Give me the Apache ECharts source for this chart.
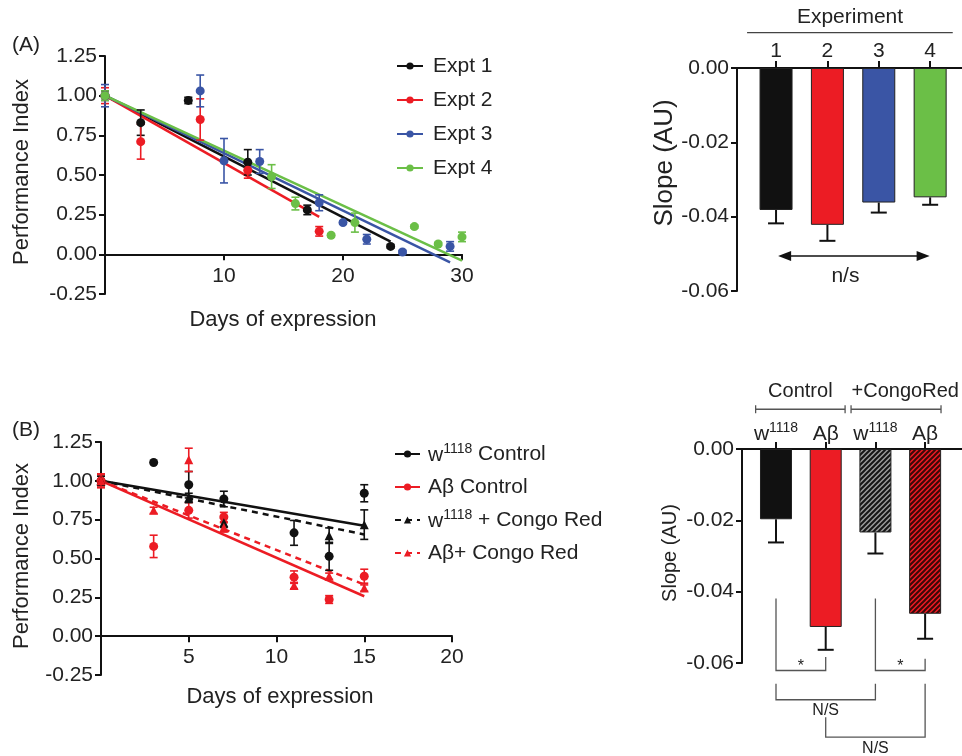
<!DOCTYPE html>
<html><head><meta charset="utf-8">
<script src="https://cdn.jsdelivr.net/npm/echarts@6/dist/echarts.min.js"></script>
<style>html,body{margin:0;padding:0;background:#fff}#c{width:962px;height:756px}</style>
</head><body><div id="c"></div>
<script>
// ================= DATA =================
// Panel A – performance index per experiment
const exptNames = ['Expt 1', 'Expt 2', 'Expt 3', 'Expt 4'];
const a1Days = [0, 3, 7, 12, 17, 24];
const a1PI   = [1.00, 0.83, 0.97, 0.58, 0.28, 0.05];
const a1Err  = [0.03, 0.08, 0.02, 0.08, 0.03, 0.01];
const a2Days = [0, 3, 8, 12, 18];
const a2PI   = [1.00, 0.71, 0.85, 0.53, 0.145];
const a2Err  = [0.05, 0.11, 0.13, 0.05, 0.03];
const a3Days = [0, 8, 10, 13, 18, 20, 22, 25, 29];
const a3PI   = [1.00, 1.03, 0.59, 0.585, 0.325, 0.20, 0.095, 0.015, 0.05];
const a3Err  = [0.07, 0.10, 0.14, 0.075, 0.05, 0.01, 0.03, 0.01, 0.03];
const a4Days = [0, 14, 16, 19, 21, 26, 28, 30];
const a4PI   = [1.00, 0.49, 0.32, 0.12, 0.20, 0.175, 0.065, 0.11];
const a4Err  = [0.03, 0.075, 0.04, 0.01, 0.06, 0.01, 0.01, 0.03];
// linear-fit end points [day, PI]
const fitA1 = [[0, 1.00], [24, 0.08]];
const fitA2 = [[0, 1.00], [18, 0.236]];
const fitA3 = [[0, 1.00], [29, -0.05]];
const fitA4 = [[0, 1.00], [30, -0.04]];
// Panel A – slopes
const expCats = ['1', '2', '3', '4'];
const slopesA = [-0.0382, -0.0422, -0.0362, -0.0348];
const semA    = [0.0036, 0.0043, 0.0027, 0.0020];

// Panel B – performance index
const bNames = ['w1118 Control', 'Aβ Control', 'w1118 + Congo Red', 'Aβ+ Congo Red'];
const bWDays = [0, 3, 5, 7, 11, 13, 15];
const bWPI   = [1.00, 1.118, 0.975, 0.883, 0.665, 0.514, 0.92];
const bWErr  = [0.03, 0, 0.085, 0.05, 0.08, 0.09, 0.055];
const bADays = [0, 3, 5, 7, 11, 13, 15];
const bAPI   = [1.00, 0.578, 0.81, 0.767, 0.38, 0.236, 0.386];
const bAErr  = [0.045, 0.072, 0.05, 0.03, 0.04, 0.025, 0.045];
const bWCDays = [0, 5, 7, 13, 15];
const bWCPI   = [1.00, 0.89, 0.73, 0.647, 0.718];
const bWCErr  = [0.03, 0.03, 0.03, 0.05, 0.095];
const bACDays = [0, 3, 5, 7, 11, 13, 15];
const bACPI   = [1.00, 0.81, 1.135, 0.70, 0.326, 0.386, 0.31];
const bACErr  = [0.04, 0.02, 0.075, 0.03, 0.02, 0.02, 0.02];
const fitBW  = [[0, 1.00], [15, 0.711]];
const fitBA  = [[0, 1.00], [15, 0.257]];
const fitBWC = [[0, 1.00], [15, 0.655]];
const fitBAC = [[0, 1.00], [15, 0.332]];
// Panel B – slopes
const catsB  = ['w1118', 'Aβ', 'w1118', 'Aβ'];
const slopesB = [-0.0197, -0.0499, -0.0234, -0.0462];
const semB    = [0.0065, 0.0064, 0.0059, 0.0070];
const groupsB = ['Control', '+CongoRed'];

// ================= STYLE =================
const FONT = '"Liberation Sans", Arial, Helvetica, sans-serif';
const BLACK = '#111111', RED = '#ec1c24', BLUE = '#3a55a5', GREEN = '#6bbf47';
const AX = '#111', TXT = '#222';

function hatch(bg, fg) {
  const s = 5, c = document.createElement('canvas');
  c.width = s; c.height = s;
  const g = c.getContext('2d');
  g.fillStyle = bg; g.fillRect(0, 0, s, s);
  g.strokeStyle = fg; g.lineWidth = 2;
  g.beginPath();
  g.moveTo(-1, s + 1); g.lineTo(s + 1, -1);
  g.moveTo(-1, 1); g.lineTo(1, -1);
  g.moveTo(s - 1, s + 1); g.lineTo(s + 1, s - 1);
  g.stroke();
  return { image: c, repeat: 'repeat' };
}

const zipPts = (d, v) => d.map((x, i) => [x, v[i]]);
const zipErr = (d, v, e) => d.map((x, i) => [x, v[i], e[i]]);

function errRender(color, capW, oneSided) {
  return function (params, api) {
    const x = api.value(0), y = api.value(1), e = api.value(2);
    if (!e) return;
    const top = api.coord([x, oneSided ? y : y + e]);
    const bot = api.coord([x, y - e]);
    const st = { stroke: color, lineWidth: oneSided ? 2 : 1.6 };
    const ch = [{ type: 'line', shape: { x1: top[0], y1: top[1], x2: bot[0], y2: bot[1] }, style: st },
                { type: 'line', shape: { x1: bot[0] - capW / 2, y1: bot[1], x2: bot[0] + capW / 2, y2: bot[1] }, style: st }];
    if (!oneSided) ch.push({ type: 'line', shape: { x1: top[0] - capW / 2, y1: top[1], x2: top[0] + capW / 2, y2: top[1] }, style: st });
    return { type: 'group', children: ch };
  };
}

function valAxisStyle() {
  return {
    axisLine: { show: true, onZero: false, lineStyle: { color: AX, width: 2 } },
    axisTick: { show: true, length: 6, lineStyle: { color: AX, width: 2 } },
    splitLine: { show: false },
  };
}

const chart = echarts.init(document.getElementById('c'));

const series = [];
// ---- Panel A line chart (grid 0) ----
const aCols = [BLACK, RED, BLUE, GREEN];
const aFits = [fitA1, fitA2, fitA3, fitA4];
const aPts = [[a1Days, a1PI, a1Err], [a2Days, a2PI, a2Err], [a3Days, a3PI, a3Err], [a4Days, a4PI, a4Err]];
exptNames.forEach((n, i) => {
  series.push({ type: 'line', name: n, xAxisIndex: 0, yAxisIndex: 0, data: aFits[i], symbol: 'circle', showSymbol: false,
    lineStyle: { color: aCols[i], width: 2.5 }, itemStyle: { color: aCols[i] }, z: 3, silent: true });
});
exptNames.forEach((n, i) => {
  series.push({ type: 'custom', name: n + ' err', xAxisIndex: 0, yAxisIndex: 0, encode: { x: 0, y: 1 },
    data: zipErr(aPts[i][0], aPts[i][1], aPts[i][2]), renderItem: errRender(aCols[i], 8, false), z: 4 });
  series.push({ type: 'scatter', name: n, xAxisIndex: 0, yAxisIndex: 0, data: zipPts(aPts[i][0], aPts[i][1]),
    symbol: 'circle', symbolSize: 9, itemStyle: { color: aCols[i], opacity: 1 }, z: 5 });
});
// ---- Panel A bar chart (grid 1) ----
series.push({ type: 'bar', xAxisIndex: 1, yAxisIndex: 1, barWidth: 33,
  data: slopesA.map((v, i) => ({ value: [i + 1, v], itemStyle: { color: aCols[i] } })),
  itemStyle: { borderColor: '#222', borderWidth: 1 }, z: 2 });
series.push({ type: 'custom', xAxisIndex: 1, yAxisIndex: 1, encode: { x: 0, y: 1 },
  data: slopesA.map((v, i) => [i + 1, v, semA[i]]), renderItem: errRender(BLACK, 16, true), z: 1 });

// ---- Panel B line chart (grid 2) ----
const bCols = [BLACK, RED, BLACK, RED];
const bFits = [fitBW, fitBA, fitBWC, fitBAC];
const bSym = ['circle', 'circle', 'triangle', 'triangle'];
const bDash = ['solid', 'solid', [6, 5], [6, 5]];
const bPts = [[bWDays, bWPI, bWErr], [bADays, bAPI, bAErr], [bWCDays, bWCPI, bWCErr], [bACDays, bACPI, bACErr]];
bNames.forEach((n, i) => {
  series.push({ type: 'line', name: n, xAxisIndex: 2, yAxisIndex: 2, data: bFits[i], symbol: bSym[i], showSymbol: false,
    lineStyle: { color: bCols[i], width: 2.5, type: bDash[i] }, itemStyle: { color: bCols[i] }, z: 3, silent: true });
});
bNames.forEach((n, i) => {
  series.push({ type: 'custom', name: n + ' err', xAxisIndex: 2, yAxisIndex: 2, encode: { x: 0, y: 1 },
    data: zipErr(bPts[i][0], bPts[i][1], bPts[i][2]), renderItem: errRender(bCols[i], 8, false), z: 4 });
  series.push({ type: 'scatter', name: n, xAxisIndex: 2, yAxisIndex: 2, data: zipPts(bPts[i][0], bPts[i][1]),
    symbol: bSym[i], symbolSize: 9, itemStyle: { color: bCols[i], opacity: 1 }, z: 5 });
});
// ---- Panel B bar chart (grid 3) ----
const bBarCols = [BLACK, RED, hatch('#9a9a9a', '#151515'), hatch('#ec1c24', '#3a0808')];
series.push({ type: 'bar', xAxisIndex: 3, yAxisIndex: 3, barWidth: 32,
  data: slopesB.map((v, i) => ({ value: [i + 1, v], itemStyle: { color: bBarCols[i] } })),
  itemStyle: { borderColor: '#222', borderWidth: 1 }, z: 2 });
series.push({ type: 'custom', xAxisIndex: 3, yAxisIndex: 3, encode: { x: 0, y: 1 },
  data: slopesB.map((v, i) => [i + 1, v, semB[i]]), renderItem: errRender(BLACK, 16, true), z: 1 });

const labelA = { fontSize: 21, color: TXT, fontFamily: FONT };
const supRich = {
  n: { fontSize: 21, fontFamily: FONT, color: TXT, lineHeight: 24, verticalAlign: 'bottom' },
  s: { fontSize: 14, fontFamily: FONT, color: TXT, lineHeight: 14, verticalAlign: 'top' },
};
const supFmt = s => s.replace('w1118', '{n|w}{s|1118}');

const option = {
  animation: false,
  backgroundColor: '#fff',
  textStyle: { fontFamily: FONT },
  grid: [
    { left: 105, top: 56, width: 357, height: 238 },
    { left: 737, top: 68, width: 225, height: 223 },
    { left: 101, top: 442, width: 351, height: 233 },
    { left: 742, top: 449, width: 220, height: 214 },
  ],
  xAxis: [
    // x axis sits at PI = 0 (offset moves it up from the grid bottom, which is -0.25)
    Object.assign(valAxisStyle(), { gridIndex: 0, type: 'value', min: 0, max: 30, interval: 10, offset: -39.7,
      axisLabel: Object.assign({ margin: 11, formatter: v => (v === 0 ? '' : String(v)) }, labelA) }),
    Object.assign(valAxisStyle(), { gridIndex: 1, type: 'value', position: 'top', min: 0.24, max: 4.62,
      axisTick: { show: true, length: 7, customValues: [1, 2, 3, 4], lineStyle: { color: AX, width: 2 } },
      axisLabel: Object.assign({ margin: 6, customValues: [1, 2, 3, 4], formatter: v => expCats[Math.round(v) - 1] }, labelA) }),
    Object.assign(valAxisStyle(), { gridIndex: 2, type: 'value', min: 0, max: 20, interval: 5, offset: -38.8,
      axisLabel: Object.assign({ margin: 11, formatter: v => (v === 0 ? '' : String(v)) }, labelA) }),
    Object.assign(valAxisStyle(), { gridIndex: 3, type: 'value', position: 'top', min: 0.316, max: 4.742,
      axisTick: { show: true, length: 7, customValues: [1, 2, 3, 4], lineStyle: { color: AX, width: 2 } },
      axisLabel: { margin: 4, customValues: [1, 2, 3, 4], fontSize: 21, color: TXT, fontFamily: FONT,
        formatter: v => supFmt(catsB[Math.round(v) - 1]), rich: supRich } }),
  ],
  yAxis: [
    Object.assign(valAxisStyle(), { gridIndex: 0, type: 'value', min: -0.25, max: 1.25, interval: 0.25,
      axisLabel: Object.assign({ margin: 8, formatter: v => v.toFixed(2) }, labelA) }),
    Object.assign(valAxisStyle(), { gridIndex: 1, type: 'value', min: -0.06, max: 0, interval: 0.02,
      axisLabel: Object.assign({ margin: 8, formatter: v => v.toFixed(2) }, labelA) }),
    Object.assign(valAxisStyle(), { gridIndex: 2, type: 'value', min: -0.25, max: 1.25, interval: 0.25,
      axisLabel: Object.assign({ margin: 8, formatter: v => v.toFixed(2) }, labelA) }),
    Object.assign(valAxisStyle(), { gridIndex: 3, type: 'value', min: -0.06, max: 0, interval: 0.02,
      axisLabel: Object.assign({ margin: 8, formatter: v => v.toFixed(2) }, labelA) }),
  ],
  legend: [
    { orient: 'vertical', left: 391, top: 49, itemWidth: 26, itemHeight: 9, itemGap: 10, selectedMode: false,
      data: exptNames, textStyle: { fontSize: 21, fontFamily: FONT, color: TXT, lineHeight: 24, padding: [0, 0, 0, 5] } },
    { orient: 'vertical', left: 389, top: 437, itemWidth: 25, itemHeight: 9, itemGap: 9, selectedMode: false,
      data: bNames, formatter: supFmt,
      textStyle: { fontSize: 21, fontFamily: FONT, color: TXT, lineHeight: 24, padding: [0, 0, 0, 3], rich: supRich } },
  ],
  series: series,
};
chart.setOption(option);

// ================= ANNOTATIONS =================
const P = (g, x, y) => chart.convertToPixel({ gridIndex: g }, [x, y]);
const gfx = [];
function txt(x, y, s, size, rot) {
  gfx.push({ type: 'text', x: x, y: y, rotation: rot || 0, silent: true,
    style: { text: s, fontSize: size, fontFamily: FONT, fill: TXT, align: 'center', verticalAlign: 'middle' } });
}
function pl(pts, color, w) {
  gfx.push({ type: 'polyline', silent: true, shape: { points: pts }, style: { stroke: color || '#444', lineWidth: w || 1.3, fill: null } });
}
// panel tags and axis titles
txt(26, 45, '(A)', 21);
txt(26, 430, '(B)', 21);
txt(22, 172, 'Performance Index', 22, Math.PI / 2);
txt(22, 556, 'Performance Index', 22, Math.PI / 2);
txt(283, 320, 'Days of expression', 22);
txt(280, 697, 'Days of expression', 22);
txt(665, 163, 'Slope (AU)', 26, Math.PI / 2);
txt(670, 553, 'Slope (AU)', 20, Math.PI / 2);

// Panel A bar header + arrow
{
  const l = P(1, 0.436, 0.0095), r = P(1, 4.44, 0.0095);
  pl([l, r], '#444', 1.3);
  const t = P(1, 2.44, 0.01356);
  txt(t[0], t[1], 'Experiment', 21);
  const a = P(1, 1.04, -0.0506), b = P(1, 3.99, -0.0506);
  pl([[a[0] + 8, a[1]], [b[0] - 8, b[1]]], '#111', 1.5);
  gfx.push({ type: 'polygon', silent: true, shape: { points: [[a[0], a[1]], [a[0] + 13, a[1] - 5], [a[0] + 13, a[1] + 5]] }, style: { fill: '#111' } });
  gfx.push({ type: 'polygon', silent: true, shape: { points: [[b[0], b[1]], [b[0] - 13, b[1] - 5], [b[0] - 13, b[1] + 5]] }, style: { fill: '#111' } });
  const n = P(1, 2.35, -0.056);
  txt(n[0], n[1], 'n/s', 21);
}
// Panel B bar group headers
const groupSpans = [[0.59, 2.39, 1.49], [2.51, 4.32, 3.6]];
groupsB.forEach((g, i) => {
  const s = groupSpans[i];
  const l = P(3, s[0], 0.01115), r = P(3, s[1], 0.01115);
  pl([l, r], '#555', 1.3);
  pl([[l[0], l[1] - 4], [l[0], l[1] + 4]], '#555', 1.3);
  pl([[r[0], r[1] - 4], [r[0], r[1] + 4]], '#555', 1.3);
  const t = P(3, s[2], 0.0161);
  txt(t[0], t[1], g, 20);
});
// Panel B significance brackets
const sigBrackets = [
  { a: 1, b: 2, ya: -0.0419, yb: -0.0583, base: -0.0621, label: '*', ly: -0.0609, size: 16 },
  { a: 3, b: 4, ya: -0.0419, yb: -0.0588, base: -0.0621, label: '*', ly: -0.0609, size: 16 },
  { a: 1, b: 3, ya: -0.0658, yb: -0.0658, base: -0.0703, label: 'N/S', ly: -0.0733, size: 16 },
  { a: 2, b: 4, ya: -0.0752, yb: -0.0658, base: -0.0808, label: 'N/S', ly: -0.0840, size: 16 },
];
sigBrackets.forEach(s => {
  pl([P(3, s.a, s.ya), P(3, s.a, s.base), P(3, s.b, s.base), P(3, s.b, s.yb)], '#555', 1.3);
  const t = P(3, (s.a + s.b) / 2, s.ly);
  txt(t[0], t[1], s.label, s.size);
});
chart.setOption({ graphic: gfx });
</script>
</body></html>
